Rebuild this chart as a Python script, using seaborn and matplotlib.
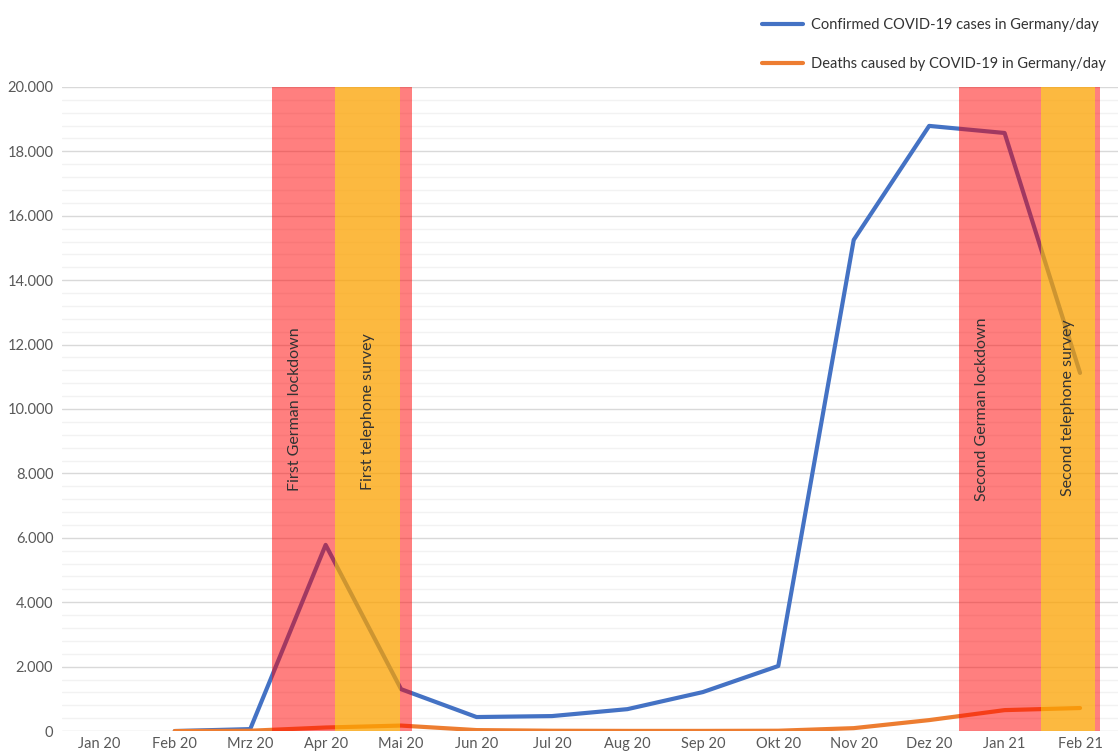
import numpy as np
import pandas as pd
import matplotlib
matplotlib.use("Agg")
import matplotlib.pyplot as plt
from matplotlib.ticker import MultipleLocator, FuncFormatter
import seaborn as sns

# months on the x axis
months = ["Jan 20", "Feb 20", "Mrz 20", "Apr 20", "Mai 20", "Jun 20", "Jul 20",
          "Aug 20", "Sep 20", "Okt 20", "Nov 20", "Dez 20", "Jan 21", "Feb 21"]
# daily averages (no data for Jan 20)
cases = [np.nan, 0, 60, 5780, 1300, 435, 465, 680, 1210, 2020, 15250, 18790, 18570, 11120]
deaths = [np.nan, 0, 10, 110, 170, 30, 10, 5, 5, 10, 90, 340, 650, 715]

# shaded periods in month positions
lockdowns = [(2.29, 4.15), (11.4, 13.26)]
surveys = [(3.13, 3.98), (12.48, 13.2)]
lockdown_labels = ["First German lockdown", "Second German lockdown"]
survey_labels = ["First telephone survey", "Second telephone survey"]

sns.set_style("white")
plt.rcParams["font.family"] = ["Lato", "DejaVu Sans"]

df = pd.DataFrame({"pos": np.arange(len(months)), "cases": cases, "deaths": deaths})

fig = plt.figure(figsize=(11.2, 7.56), dpi=100)
ax = fig.add_axes([0.055, 0.033, 0.943, 0.852])

sns.lineplot(data=df, x="pos", y="cases", ax=ax, color="#4472C4", linewidth=3,
             label="Confirmed COVID-19 cases in Germany/day", legend=False,
             solid_joinstyle="round", solid_capstyle="round")
sns.lineplot(data=df, x="pos", y="deaths", ax=ax, color="#ED7D31", linewidth=3,
             label="Deaths caused by COVID-19 in Germany/day", legend=False,
             solid_joinstyle="round", solid_capstyle="round")

# red lockdown band, split around the survey band so they do not stack
for (a, b), (s0, s1), txt, ty in zip(lockdowns, surveys, lockdown_labels, [7450, 7150]):
    ax.axvspan(a, s0, color="#FF0000", alpha=0.5, lw=0, zorder=3)
    ax.axvspan(s1, b, color="#FF0000", alpha=0.5, lw=0, zorder=3)
    ax.text(a + 0.3, ty, txt, rotation=90, ha="center", va="bottom",
            fontsize=11.5, color="#333333", zorder=4)
for (a, b), txt, ty in zip(surveys, survey_labels, [7500, 7300]):
    ax.axvspan(a, b, color="#FCA200", alpha=0.75, lw=0, zorder=3)
    ax.text((a + b) / 2, ty, txt, rotation=90, ha="center", va="bottom",
            fontsize=11.5, color="#333333", zorder=4)

ax.set_xlim(-0.5, len(months) - 0.5)
ax.set_ylim(0, 20000)
ax.set_xticks(np.arange(len(months)))
ax.set_xticklabels(months)
ax.yaxis.set_major_locator(MultipleLocator(2000))
ax.yaxis.set_minor_locator(MultipleLocator(400))
ax.yaxis.set_major_formatter(FuncFormatter(lambda v, p: f"{int(v):,}".replace(",", ".")))
ax.grid(axis="y", which="major", color="#D9D9D9", linewidth=1, zorder=0)
ax.grid(axis="y", which="minor", color="#F2F2F2", linewidth=1, zorder=0)
ax.grid(axis="x", visible=False)
ax.tick_params(axis="both", which="both", length=0, labelsize=10.5, colors="#595959")
ax.tick_params(axis="x", pad=4)
ax.tick_params(axis="y", pad=6)
for s in ax.spines.values():
    s.set_visible(False)
ax.set_xlabel("")
ax.set_ylabel("")

handles, labels = ax.get_legend_handles_labels()
fig.legend(handles, labels, loc="upper right", bbox_to_anchor=(0.999, 0.994),
           frameon=False, fontsize=10.5, labelspacing=1.75, handlelength=2.8,
           handletextpad=0.55, labelcolor="#333333")

fig.savefig("out.png", dpi=100)
